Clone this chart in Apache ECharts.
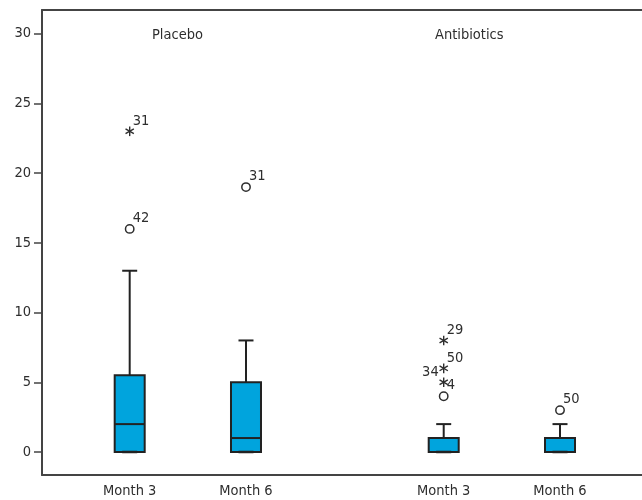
<!DOCTYPE html>
<html>
<head>
<meta charset="utf-8">
<script src="https://cdn.jsdelivr.net/npm/echarts@6/dist/echarts.min.js"></script>
<style>
html,body{margin:0;padding:0;background:#fff;}
#chart{width:642px;height:500px;}
</style>
</head>
<body>
<div id="chart"></div>
<script>
// ---- data ----
const groupX = [1, 2, 3.7, 4.7];
const monthLabels = ['Month 3', 'Month 6', 'Month 3', 'Month 6'];
const minVals = [0, 0, 0, 0];
const q1Vals = [0, 0, 0, 0];
const medianVals = [2, 1, 0, 0];
const q3Vals = [5.5, 5, 1, 1];
const maxVals = [13, 8, 2, 2];
const outlierGroup = [0, 0, 1, 2, 2, 2, 2, 3];
const outlierValue = [16, 23, 19, 8, 6, 5, 4, 3];
const outlierKind = ['circle', 'star', 'circle', 'star', 'star', 'star', 'circle', 'circle'];
const outlierLabel = ['42', '31', '31', '29', '50', '34', '4', '50'];
const outlierLabelSide = ['right', 'right', 'right', 'right', 'right', 'left', 'right', 'right'];
const yTicks = [0, 5, 10, 15, 20, 25, 30];
const panelTitles = ['Placebo', 'Antibiotics'];

const FONT = '"DejaVu Sans Condensed", "DejaVu Sans", sans-serif';
const FS = 14.5;
const TXT = '#2e2e2e';
const LINE = '#222222';
const FILL = '#00a4dd';

const boxData = groupX.map((x, i) => [x, minVals[i], q1Vals[i], medianVals[i], q3Vals[i], maxVals[i]]);
const outData = outlierValue.map((v, i) => [groupX[outlierGroup[i]], v, i]);

const chart = echarts.init(document.getElementById('chart'), null, {renderer: 'canvas'});

function renderBox(params, api) {
  const x = api.value(0);
  const pMin = api.coord([x, api.value(1)]);
  const pQ1 = api.coord([x, api.value(2)]);
  const pMed = api.coord([x, api.value(3)]);
  const pQ3 = api.coord([x, api.value(4)]);
  const pMax = api.coord([x, api.value(5)]);
  const cx = pQ1[0];
  const hw = 15, cw = 7.5;
  const ls = {stroke: LINE, lineWidth: 2};
  return {
    type: 'group',
    children: [
      {type: 'line', shape: {x1: cx, y1: pMax[1], x2: cx, y2: pQ3[1]}, style: ls},
      {type: 'line', shape: {x1: cx - cw, y1: pMax[1], x2: cx + cw, y2: pMax[1]}, style: ls},
      {type: 'line', shape: {x1: cx, y1: pMin[1], x2: cx, y2: pQ1[1]}, style: ls},
      {type: 'rect', shape: {x: cx - hw, y: pQ3[1], width: hw * 2, height: pQ1[1] - pQ3[1]},
        style: {fill: FILL, stroke: LINE, lineWidth: 2}},
      {type: 'line', shape: {x1: cx - hw, y1: pMed[1], x2: cx + hw, y2: pMed[1]}, style: ls},
      {type: 'line', shape: {x1: cx - cw, y1: pMin[1], x2: cx + cw, y2: pMin[1]}, style: {stroke: LINE, lineWidth: 2.5}}
    ]
  };
}

function renderOutlier(params, api) {
  const idx = api.value(2);
  const p = api.coord([api.value(0), api.value(1)]);
  const children = [];
  if (outlierKind[idx] === 'circle') {
    children.push({type: 'circle', shape: {cx: p[0], cy: p[1], r: 4.2},
      style: {fill: 'none', stroke: TXT, lineWidth: 1.5}});
  } else {
    const r = 4.8, dx = r * Math.cos(Math.PI / 6), dy = r * Math.sin(Math.PI / 6);
    const st = {stroke: TXT, lineWidth: 1.4};
    children.push({type: 'line', shape: {x1: p[0], y1: p[1] - r, x2: p[0], y2: p[1] + r}, style: st});
    children.push({type: 'line', shape: {x1: p[0] - dx, y1: p[1] - dy, x2: p[0] + dx, y2: p[1] + dy}, style: st});
    children.push({type: 'line', shape: {x1: p[0] - dx, y1: p[1] + dy, x2: p[0] + dx, y2: p[1] - dy}, style: st});
  }
  const right = outlierLabelSide[idx] === 'right';
  children.push({type: 'text', x: right ? p[0] + 3 : p[0] - 5, y: p[1] - 3,
    style: {text: outlierLabel[idx], fill: TXT, font: FS + 'px ' + FONT,
      align: right ? 'left' : 'right', verticalAlign: 'bottom'}});
  return {type: 'group', children: children};
}

const option = {
  animation: false,
  backgroundColor: '#ffffff',
  grid: {left: 42, right: 0, top: 10, bottom: 25, containLabel: false},
  xAxis: [{
    type: 'value', min: 0.246, max: 5.405, position: 'bottom',
    splitLine: {show: false},
    axisLine: {show: true, onZero: false, lineStyle: {color: '#444', width: 2}},
    axisTick: {show: false},
    axisLabel: {
      show: true, customValues: groupX, margin: 9,
      fontFamily: FONT, fontSize: FS, color: TXT,
      formatter: function (v) { const i = groupX.indexOf(v); return i >= 0 ? monthLabels[i] : ''; }
    }
  }, {
    type: 'value', min: 0.246, max: 5.405, position: 'top',
    splitLine: {show: false},
    axisLine: {show: true, onZero: false, lineStyle: {color: '#444', width: 2}},
    axisTick: {show: false}, axisLabel: {show: false}
  }],
  yAxis: {
    type: 'value', min: -1.65, max: 31.7,
    splitLine: {show: false},
    axisLine: {show: true, onZero: false, lineStyle: {color: '#444', width: 2}},
    axisTick: {show: true, customValues: yTicks, length: 8, lineStyle: {color: '#444', width: 1.5}},
    axisLabel: {show: true, customValues: yTicks, margin: 11, fontFamily: FONT, fontSize: FS, color: TXT}
  },
  graphic: [
    {type: 'text', left: 152, top: 28, style: {text: panelTitles[0], font: FS + 'px ' + FONT, fill: TXT}},
    {type: 'text', left: 435, top: 28, style: {text: panelTitles[1], font: FS + 'px ' + FONT, fill: TXT}}
  ],
  series: [
    {type: 'custom', xAxisIndex: 0, renderItem: renderBox, data: boxData, clip: false, silent: true},
    {type: 'custom', xAxisIndex: 0, renderItem: renderOutlier, data: outData, clip: false, silent: true}
  ]
};
chart.setOption(option);
</script>
</body>
</html>
